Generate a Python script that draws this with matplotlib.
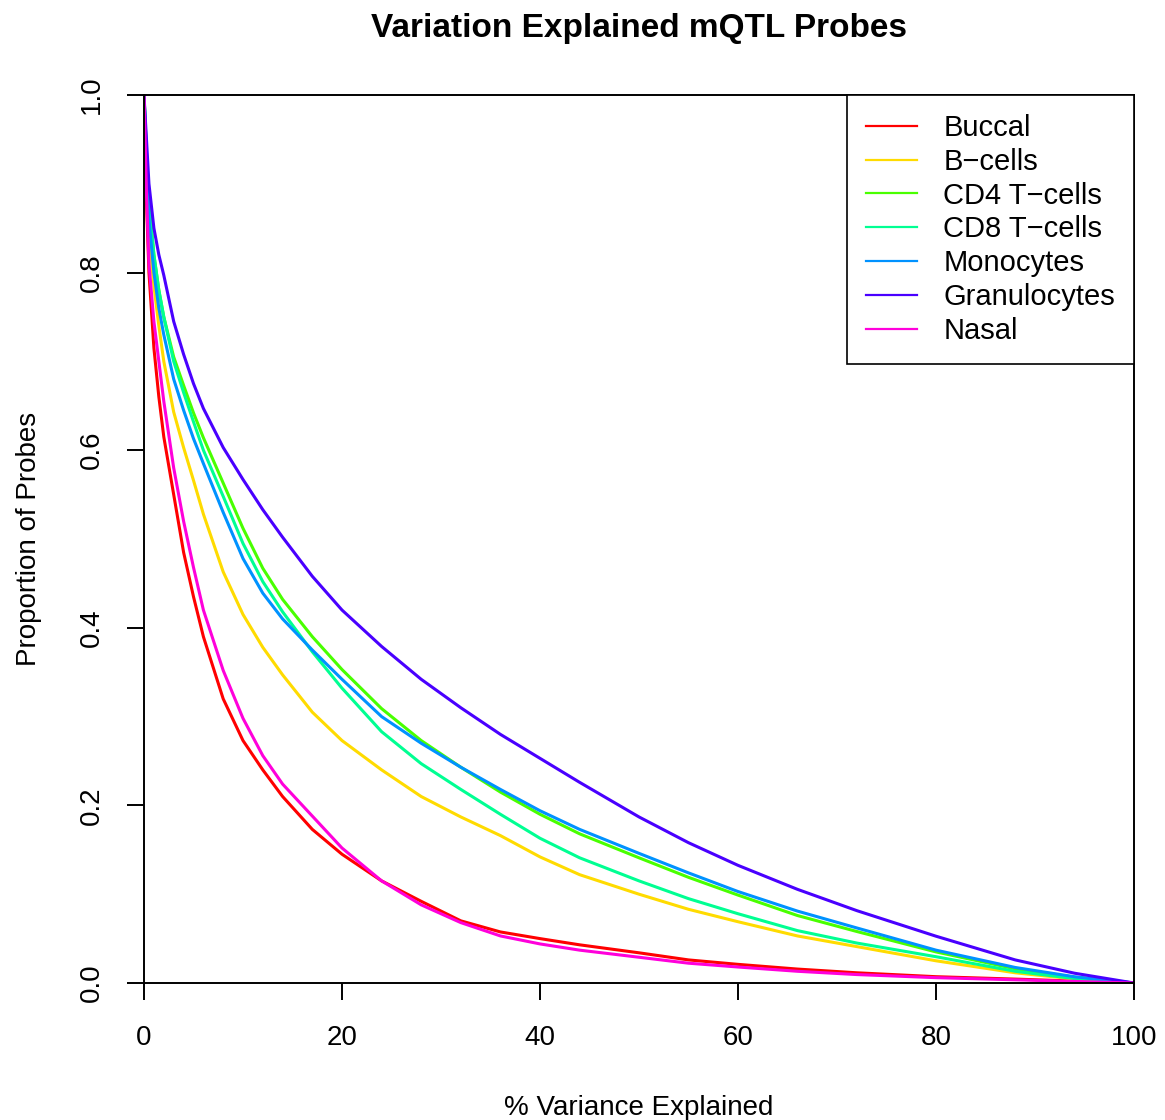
import numpy as np
import matplotlib
matplotlib.use("Agg")
import matplotlib.pyplot as plt

plt.rcParams['font.family'] = ['Liberation Sans', 'DejaVu Sans']

# % variance explained (x) and proportion of probes (y)
variance = [0, 0.25, 0.5, 1, 1.5, 2, 3, 4, 5, 6, 8, 10, 12, 14, 17, 20, 24, 28,
            32, 36, 40, 44, 50, 55, 60, 66, 72, 80, 88, 94, 100]

buccal = [1.0, 0.88, 0.80, 0.715, 0.66, 0.615, 0.55, 0.485, 0.435, 0.39, 0.32,
          0.273, 0.240, 0.210, 0.173, 0.145, 0.115, 0.092, 0.070, 0.0575, 0.050,
          0.043, 0.034, 0.026, 0.021, 0.0157, 0.0115, 0.0071, 0.0044, 0.0022, 0.0]
bcells = [1.0, 0.91, 0.84, 0.785, 0.74, 0.70, 0.643, 0.603, 0.566, 0.528, 0.463,
          0.415, 0.378, 0.347, 0.305, 0.273, 0.240, 0.210, 0.187, 0.166, 0.142,
          0.122, 0.100, 0.083, 0.069, 0.053, 0.041, 0.025, 0.0115, 0.0045, 0.0]
cd4 = [1.0, 0.935, 0.88, 0.82, 0.78, 0.75, 0.705, 0.673, 0.642, 0.614, 0.563,
       0.512, 0.467, 0.432, 0.39, 0.353, 0.309, 0.273, 0.243, 0.215, 0.190,
       0.168, 0.141, 0.119, 0.099, 0.076, 0.058, 0.035, 0.016, 0.0065, 0.0]
cd8 = [1.0, 0.935, 0.88, 0.82, 0.78, 0.75, 0.70, 0.665, 0.632, 0.60, 0.548,
       0.495, 0.452, 0.418, 0.373, 0.332, 0.283, 0.247, 0.218, 0.190, 0.163,
       0.141, 0.115, 0.095, 0.078, 0.059, 0.045, 0.0296, 0.0132, 0.005, 0.0]
mono = [1.0, 0.93, 0.86, 0.80, 0.76, 0.73, 0.68, 0.645, 0.613, 0.585, 0.53,
        0.478, 0.439, 0.41, 0.375, 0.342, 0.300, 0.27, 0.243, 0.218, 0.194,
        0.173, 0.146, 0.124, 0.103, 0.081, 0.062, 0.037, 0.0175, 0.007, 0.0]
gran = [1.0, 0.95, 0.90, 0.85, 0.82, 0.797, 0.745, 0.708, 0.675, 0.647, 0.603,
        0.567, 0.533, 0.502, 0.458, 0.42, 0.379, 0.342, 0.31, 0.28, 0.253,
        0.226, 0.187, 0.158, 0.1325, 0.1055, 0.0815, 0.0527, 0.026, 0.011, 0.0]
nasal = [1.0, 0.89, 0.81, 0.745, 0.70, 0.655, 0.58, 0.52, 0.468, 0.42, 0.352,
         0.298, 0.256, 0.224, 0.188, 0.152, 0.115, 0.088, 0.068, 0.053, 0.044,
         0.037, 0.029, 0.0223, 0.018, 0.0132, 0.0095, 0.006, 0.0036, 0.0018, 0.0]

labels = ["Buccal", "B\u2212cells", "CD4 T\u2212cells", "CD8 T\u2212cells",
          "Monocytes", "Granulocytes", "Nasal"]
series = [buccal, bcells, cd4, cd8, mono, gran, nasal]
# R rainbow(7)
colors = ["#FF0000", "#FFDB00", "#49FF00", "#00FF92", "#0092FF", "#4900FF", "#FF00DB"]

fig = plt.figure(figsize=(11.65, 11.2), dpi=100)
ax = fig.add_axes([144 / 1165, 137 / 1120, 990 / 1165, 888 / 1120])

for ys, lab, col in zip(series, labels, colors):
    ax.plot(variance, ys, color=col, lw=2.2, label=lab)

ax.set_xlim(0, 100)
ax.set_ylim(0, 1)
ax.set_xticks([0, 20, 40, 60, 80, 100])
ax.set_yticks([0.0, 0.2, 0.4, 0.6, 0.8, 1.0])
ax.set_yticklabels(["0.0", "0.2", "0.4", "0.6", "0.8", "1.0"], rotation=90, va="center")
ax.tick_params(axis="both", direction="out", length=12, width=1.4,
               labelsize=20, pad=16)
ax.tick_params(axis="x", pad=18)
for s in ax.spines.values():
    s.set_linewidth(1.4)

ax.set_xlabel("% Variance Explained", fontsize=20, labelpad=32)
ax.set_ylabel("Proportion of Probes", fontsize=20, labelpad=27)
fig.text(639 / 1165, 1 - 29 / 1120, "Variation Explained mQTL Probes",
         ha="center", va="center", fontsize=24, fontweight="bold")

leg = ax.legend(loc="upper right", bbox_to_anchor=(1, 1), borderaxespad=0,
                fontsize=21, fancybox=False, edgecolor="black", framealpha=1,
                handlelength=1.75, handletextpad=0.9, labelspacing=0.2,
                borderpad=0.65)
leg.get_frame().set_linewidth(1.2)
for line in leg.get_lines():
    line.set_linewidth(1.6)

fig.savefig("out.png", dpi=100)
